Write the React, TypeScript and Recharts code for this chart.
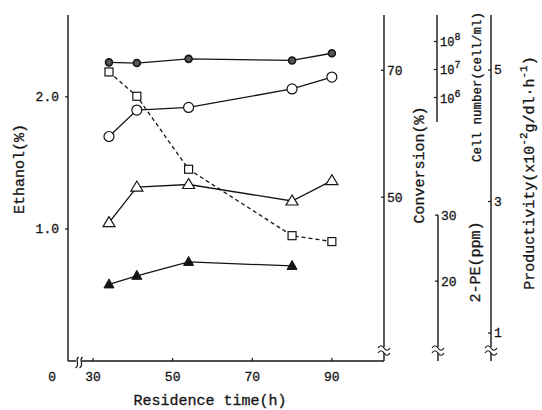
import React from "react"
import { LineChart, Line, XAxis, YAxis } from "recharts"

// residence time (h) and the five measured series
const TIME = [34, 41, 54, 80, 90]
const ETHANOL = [1.70, 1.90, 1.92, 2.06, 2.15]          // %
const CONVERSION = [46.0, 51.6, 52.0, 49.4, 52.6]        // %
const CELLS = [1.8e7, 1.7e7, 2.4e7, 2.1e7, 3.8e7]        // cell/ml
const PRODUCTIVITY = [4.97, 4.60, 3.49, 2.48, 2.39]      // x10^-2 g/dl/h
const PE2 = [19.5, 20.8, 22.9, 22.3, null]               // ppm

const X_TICKS = [30, 50, 70, 90]
const ETHANOL_TICKS = [0, 1, 2]
const CONV_TICKS = [50, 70]
const CELL_TICKS = [1e6, 1e7, 1e8]
const PE_TICKS = [20, 30]
const PROD_TICKS = [1, 3, 5]

const data = TIME.map((t, i) => ({
  time: t,
  ethanol: ETHANOL[i],
  conversion: CONVERSION[i],
  cells: CELLS[i],
  productivity: PRODUCTIVITY[i],
  pe: PE2[i],
}))

const INK = "#151515"
const FONT = "'Liberation Mono', 'Courier New', monospace"
const txt = { fontFamily: FONT, fill: INK, stroke: INK, strokeWidth: 0.3 }

// --- ticks ---
const XTick = ({ x, y, payload }: any) => (
  <g>
    <line x1={x} x2={x} y1={y} y2={y - 3} stroke={INK} strokeWidth={1.2} />
    <text x={x} y={y + 20} textAnchor="middle" fontSize={13} {...txt}>{payload.value}</text>
  </g>
)

const EthTick = ({ x, y, payload }: any) => {
  if (payload.value === 0) {
    return <text x={x - 12} y={y + 20} textAnchor="end" fontSize={13} {...txt}>0</text>
  }
  return (
    <g>
      <line x1={x - 3} x2={x} y1={y} y2={y} stroke={INK} strokeWidth={1.2} />
      <text x={x - 9} y={y + 4.5} textAnchor="end" fontSize={13} {...txt}>{payload.value.toFixed(1)}</text>
    </g>
  )
}

const RightTick = ({ x, y, payload }: any) => (
  <g>
    <line x1={x - 3} x2={x} y1={y} y2={y} stroke={INK} strokeWidth={1.2} />
    <text x={x + 3} y={y + 4.5} fontSize={13} {...txt}>{payload.value}</text>
  </g>
)

const CellTick = ({ x, y, payload }: any) => (
  <g>
    <line x1={x - 3} x2={x} y1={y} y2={y} stroke={INK} strokeWidth={1.2} />
    <text x={x + 3} y={y + 5} fontSize={12} {...txt}>
      10<tspan dy={-6} fontSize={10}>{Math.round(Math.log10(payload.value))}</tspan>
    </text>
  </g>
)

// --- axis titles (+ break marks) drawn from the axis viewBox ---
const vBreak = (x: number, y: number) => (
  <g>
    <rect x={x - 6} y={y - 3} width={12} height={6} fill="#fff" />
    <path d={`M${x - 6} ${y - 2} c2 -3 4 -3 6 0 s4 3 6 0`} fill="none" stroke={INK} strokeWidth={1.2} />
    <path d={`M${x - 6} ${y + 3} c2 -3 4 -3 6 0 s4 3 6 0`} fill="none" stroke={INK} strokeWidth={1.2} />
  </g>
)

const vLabel = (text: React.ReactNode, dx: number, dy: number, fontSize = 15, brk = false) => (props: any) => {
  const vb = props.viewBox
  const cx = vb.x + dx
  const cy = vb.y + vb.height / 2 + dy
  return (
    <g>
      {brk && vBreak(vb.x, vb.y + vb.height - 11)}
      <text x={cx} y={cy} transform={`rotate(-90 ${cx} ${cy})`} textAnchor="middle"
        dominantBaseline="central" fontSize={fontSize} {...txt}>{text}</text>
    </g>
  )
}

const xLabel = (props: any) => {
  const vb = props.viewBox
  const y = vb.y
  const b1 = vb.x + 9
  const b2 = vb.x + 13
  return (
    <g>
      <rect x={b1 - 1} y={y - 2} width={b2 - b1 + 2} height={4} fill="#fff" />
      <path d={`M${b1 + 1.5} ${y - 4} C${b1 - 3} ${y - 1} ${b1 + 4} ${y + 3} ${b1 - 1.5} ${y + 7}`} fill="none" stroke={INK} strokeWidth={1.2} />
      <path d={`M${b2 + 1.5} ${y - 4} C${b2 - 3} ${y - 1} ${b2 + 4} ${y + 3} ${b2 - 1.5} ${y + 7}`} fill="none" stroke={INK} strokeWidth={1.2} />
      <text x={vb.x + 142} y={y + 44} textAnchor="middle" fontSize={15} {...txt}>Residence time(h)</text>
    </g>
  )
}

// --- markers ---
const FilledCircle = (p: any) => p.cy == null ? <g key={p.index} /> :
  <circle key={p.index} cx={p.cx} cy={p.cy} r={3.5} fill="#555" stroke={INK} strokeWidth={1.6} />
const OpenCircle = (p: any) => p.cy == null ? <g key={p.index} /> :
  <circle key={p.index} cx={p.cx} cy={p.cy} r={5} fill="#fff" stroke={INK} strokeWidth={1.2} />
const OpenSquare = (p: any) => p.cy == null ? <g key={p.index} /> :
  <rect key={p.index} x={p.cx - 4} y={p.cy - 4} width={8} height={8} fill="#fff" stroke={INK} strokeWidth={1.2} />
const OpenTriangle = (p: any) => p.cy == null ? <g key={p.index} /> :
  <polygon key={p.index} points={`${p.cx},${p.cy - 6} ${p.cx - 6},${p.cy + 4} ${p.cx + 6},${p.cy + 4}`}
    fill="#fff" stroke={INK} strokeWidth={1.2} />
const FilledTriangle = (p: any) => p.cy == null ? <g key={p.index} /> :
  <polygon key={p.index} points={`${p.cx},${p.cy - 5.5} ${p.cx - 5},${p.cy + 3.5} ${p.cx + 5},${p.cy + 3.5}`}
    fill={INK} stroke={INK} strokeWidth={1} />

const axisLine = { stroke: INK, strokeWidth: 1.4 }

// right-hand axes are stacked in id order: a (next to plot) ... d (outermost)
export default function App() {
  return (
    <div style={{ position: "absolute", left: 0, top: 0, width: 542, height: 410, background: "#fff" }}>
      <LineChart width={542} height={410} data={data} margin={{ top: 15, right: 0, bottom: 0, left: 0 }}>
        <XAxis dataKey="time" type="number" domain={[23.7, 103.1]} allowDataOverflow ticks={X_TICKS} interval={0}
          height={49} tickSize={0} tickMargin={0} tickLine={false} tick={XTick} axisLine={axisLine} label={xLabel} />

        <YAxis yAxisId="eth" orientation="left" width={68} type="number" domain={[0, 2.62]} allowDataOverflow
          ticks={ETHANOL_TICKS} interval={0} tickSize={0} tickMargin={0} tickLine={false} tick={EthTick}
          axisLine={axisLine} label={vLabel("Ethanol(%)", 20, -19)} />

        <YAxis yAxisId="a_conv" orientation="right" width={53} type="number" domain={[24.2, 78.7]} allowDataOverflow
          ticks={CONV_TICKS} interval={0} tickSize={0} tickMargin={0} tickLine={false} tick={RightTick}
          axisLine={axisLine} label={vLabel("Conversion(%)", 36, -23, 15, true)} />

        <YAxis yAxisId="b_cell" orientation="right" width={1} type="number" scale="log" domain={[3.9e-4, 8.83e8]}
          allowDataOverflow ticks={CELL_TICKS} interval={0} tickSize={0} tickMargin={0} tickLine={false}
          tick={CellTick} axisLine={{ ...axisLine, strokeDasharray: "107 1000" }}
          label={vLabel("Cell number(cell/ml)", 41, -101, 12.5)} />

        <YAxis yAxisId="c_pe" orientation="right" width={53} type="number" domain={[7.9, 60.3]} allowDataOverflow
          ticks={PE_TICKS} interval={0} tickSize={0} tickMargin={0} tickLine={false} tick={RightTick}
          axisLine={{ ...axisLine, strokeDasharray: "0 200 146 1000" }}
          label={vLabel("2-PE(ppm)", 38, 74, 15, true)} />

        <YAxis yAxisId="d_prod" orientation="right" width={51} type="number" domain={[0.574, 5.836]} allowDataOverflow
          ticks={PROD_TICKS} interval={0} tickSize={0} tickMargin={0} tickLine={false} tick={RightTick}
          axisLine={axisLine}
          label={vLabel(<>Productivity(x10<tspan dy={-6} fontSize={11}>-2</tspan><tspan dy={6}>g/dl·h</tspan><tspan dy={-6} fontSize={11}>-1</tspan><tspan dy={6}>)</tspan></>, 39, -15, 15, true)} />

        <Line yAxisId="d_prod" dataKey="productivity" stroke={INK} strokeWidth={1.3} strokeDasharray="4 3"
          dot={OpenSquare} isAnimationActive={false} />
        <Line yAxisId="a_conv" dataKey="conversion" stroke={INK} strokeWidth={1.3} dot={OpenTriangle} isAnimationActive={false} />
        <Line yAxisId="eth" dataKey="ethanol" stroke={INK} strokeWidth={1.3} dot={OpenCircle} isAnimationActive={false} />
        <Line yAxisId="b_cell" dataKey="cells" stroke={INK} strokeWidth={1.3} dot={FilledCircle} isAnimationActive={false} />
        <Line yAxisId="c_pe" dataKey="pe" stroke={INK} strokeWidth={1.3} dot={FilledTriangle} isAnimationActive={false} />
      </LineChart>
    </div>
  )
}
